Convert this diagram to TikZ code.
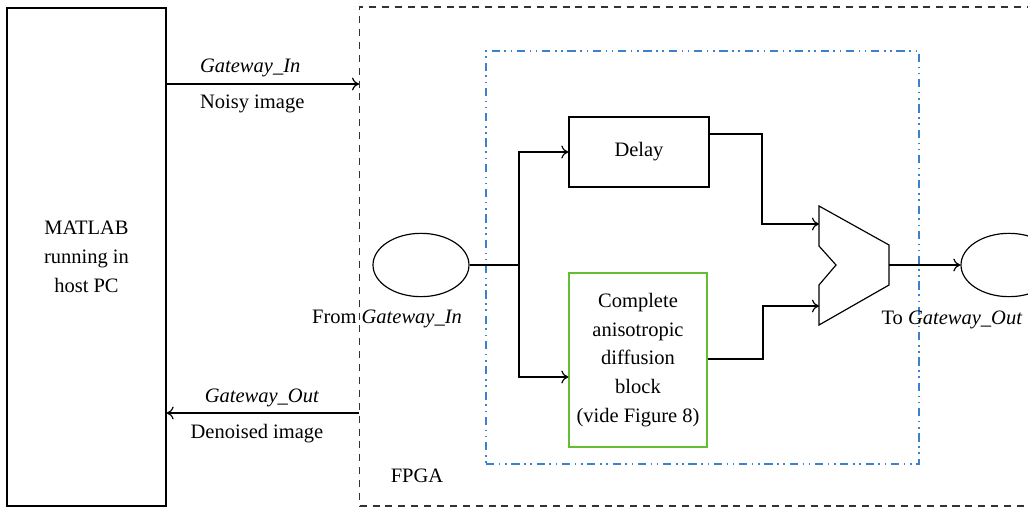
\documentclass[tikz,border=0pt]{standalone}
\usepackage{fontspec}
\setmainfont{Liberation Serif}
\usetikzlibrary{arrows.meta, shapes.geometric}
\definecolor{fpgablue}{RGB}{60,128,206}
\definecolor{blockgreen}{RGB}{100,190,50}
\tikzset{
  block/.style={draw, line width=1pt, align=center},
  port/.style={draw, line width=1pt, ellipse, minimum width=2.88cm, minimum height=1.9cm},
  wire/.style={line width=1pt},
}
\begin{document}
\begin{tikzpicture}[x=0.03cm, y=-0.03cm, >={To[length=6pt,width=11pt]},
  font=\fontsize{17.5}{24.5}\selectfont]
  \useasboundingbox (0,0) rectangle (1028,508);

  % Host side
  \node[block, minimum width=4.77cm, minimum height=14.94cm] (matlab) at (86.5,257) {MATLAB\\running in\\host PC};

  % FPGA and inner subsystem
  \node[draw=black!80, line width=1pt, dash pattern=on 6pt off 5pt, minimum width=20.6cm, minimum height=14.97cm] (fpga) at (703,256.5) {};
  \node[draw=fpgablue, line width=1pt, dash pattern=on 7pt off 4pt on 1.3pt off 4pt on 1.3pt off 4pt, minimum width=12.99cm, minimum height=12.39cm] (subsys) at (702.5,257.5) {};
  \node (fpgalabel) at (417,476) {FPGA};

  % Ports
  \node[port] (fromgw) at (421,265) {};
  \node[port] (togw) at (1009,265) {};
  \node (fromlabel) at (387,319) {From \textit{Gateway\_In}};
  \node (tolabel) at (952,320) {To \textit{Gateway\_Out}};

  % Blocks
  \node[block, minimum width=4.2cm, minimum height=2.1cm] (delay) at (639,152) {Delay};
  \node[block, draw=blockgreen, minimum width=4.14cm, minimum height=5.22cm] (diffusion) at (638,360) {Complete\\anisotropic\\diffusion\\block\\(vide Figure 8)};

  % Multiplexer
  \draw[wire] (819,206) -- (889,245) -- (889,285) -- (819,325) -- (819,285) -- (836,265) -- (819,246) -- cycle;
  \coordinate (muxin1) at (819,224);
  \coordinate (muxin2) at (819,306);
  \coordinate (muxout) at (889,265);
  \coordinate (fork) at (519,265);

  % Gateway labels
  \node[anchor=west] (gwin) at (196,68) {\textit{Gateway\_In}};
  \node[anchor=west] (noisy) at (196,104) {Noisy image};
  \node (gwout) at (262,398) {\textit{Gateway\_Out}};
  \node (denoised) at (257,434) {Denoised image};

  % Arrows
  \draw[wire, ->] (matlab.east |- 0,84) -- (fpga.west |- 0,84);
  \draw[wire, ->] (fpga.west |- 0,413) -- (matlab.east |- 0,413);
  \draw[wire] (fromgw.east) -- (fork);
  \draw[wire, ->] (fork) |- (delay.west);
  \draw[wire, ->] (fork) |- (diffusion.west |- 0,377);
  \draw[wire, ->] (delay.east |- 0,134) -| (762,224) -- (muxin1);
  \draw[wire, ->] (diffusion.east |- 0,359) -| (763,306) -- (muxin2);
  \draw[wire, ->] (muxout) -- (togw.west);

\end{tikzpicture}
\end{document}
